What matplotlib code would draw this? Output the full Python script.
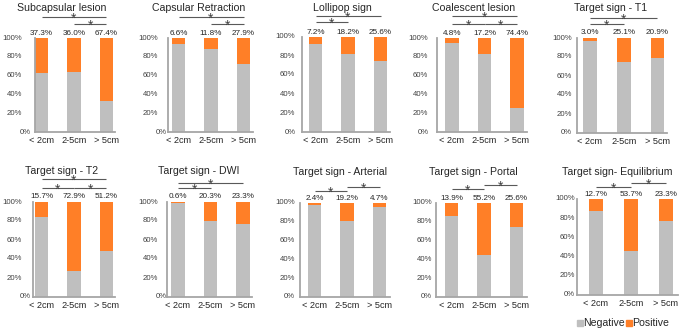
import numpy as np
import matplotlib
matplotlib.use("Agg")
import matplotlib.pyplot as plt
from matplotlib.patches import Rectangle
from matplotlib.transforms import blended_transform_factory

plt.rcParams['font.family'] = ['Liberation Sans', 'DejaVu Sans']

# ---- data ----
groups = ['< 2cm', '2-5cm', '> 5cm']
titles = ['Subcapsular lesion', 'Capsular Retraction', 'Lollipop sign',
          'Coalescent lesion', 'Target sign - T1',
          'Target sign - T2', 'Target sign - DWI', 'Target sign - Arterial',
          'Target sign - Portal', 'Target sign- Equilibrium']
positive = [
    [37.3, 36.0, 67.4],
    [6.6, 11.8, 27.9],
    [7.2, 18.2, 25.6],
    [4.8, 17.2, 74.4],
    [3.0, 25.1, 20.9],
    [15.7, 72.9, 51.2],
    [0.6, 20.3, 23.3],
    [2.4, 19.2, 4.7],
    [13.9, 55.2, 25.6],
    [12.7, 53.7, 23.3],
]
ytick_vals = [0, 20, 40, 60, 80, 100]
# significance brackets: (from group, to group, pixels above 100% line)
sig_pairs = [
    [(0, 2, 21), (1, 2, 14)],
    [(0, 2, 21), (1, 2, 14)],
    [(0, 2, 21), (0, 1, 15)],
    [(0, 2, 22), (0, 1, 14), (1, 2, 14)],
    [(0, 2, 20), (0, 1, 14)],
    [(0, 2, 23), (0, 1, 14), (1, 2, 14)],
    [(0, 2, 19), (0, 1, 14)],
    [(0, 1, 12), (1, 2, 16)],
    [(0, 1, 14), (1, 2, 18)],
    [(0, 1, 12), (1, 2, 16)],
]

# ---- layout in pixels: axis left, first bar centre, last bar centre, axis right, y100, y0 ----
layout = [
    (35, 41.5, 106.5, 115, 38, 132),
    (168, 178.5, 243.5, 253, 38, 132),
    (302, 315.5, 380.5, 390, 37, 132),
    (437, 452, 517, 527, 38, 132),
    (577, 590, 657.5, 667, 38, 133),
    (33, 41.5, 106.5, 115, 202, 297),
    (167, 178, 243, 252, 202, 297),
    (300, 314.5, 379.5, 390, 203, 297),
    (436, 451.5, 516.5, 527, 203, 297),
    (577, 596, 666, 678, 199, 295),
]
# right edge of y tick labels (others, 0%) in pixels
ylab_right = [(22, 31), (158, 167), (295, 296), (428, 429), (572, 572),
              (22, 31), (158, 167), (295, 295), (432, 432), (575, 575)]
# title centre (x, y) in pixels
title_pos = [(61.5, 8), (199, 8), (342, 8), (474, 8), (611, 8),
             (62, 171), (199, 171), (340, 172), (473, 172), (617, 172)]

W, H = 685, 332
NEG = '#BFBFBF'
POS = '#FF7F27'
SPINE = '#A6A6A6'
TXT = '#262626'

fig = plt.figure(figsize=(W / 100, H / 100), dpi=100)

for k in range(10):
    axl, c1, c3, axr, y100, y0 = layout[k]
    unit = (c3 - c1) / 2.0
    ax = fig.add_axes([axl / W, 1 - y0 / H, (axr - axl) / W, (y0 - y100) / H])
    ax.set_xlim((axl - c1) / unit, 2 + (axr - c3) / unit)
    ax.set_ylim(0, 1)
    x = np.arange(3)
    pos = np.array(positive[k]) / 100.0
    neg = 1 - pos
    bw = 13.5 / unit
    ax.bar(x, neg, width=bw, color=NEG, linewidth=0)
    ax.bar(x, pos, width=bw, bottom=neg, color=POS, linewidth=0)

    for s in ['top', 'right']:
        ax.spines[s].set_visible(False)
    for s in ['left', 'bottom']:
        ax.spines[s].set_color(SPINE)
        ax.spines[s].set_linewidth(1.3)
    ax.set_yticks([v / 100 for v in ytick_vals])
    ax.set_yticklabels([])
    ax.tick_params(axis='y', length=0)
    trans = blended_transform_factory(fig.transFigure, ax.transData)
    r_other, r_zero = ylab_right[k]
    for v in ytick_vals:
        rx = r_zero if v == 0 else r_other
        ax.text(rx / W, v / 100, f'{v}%', transform=trans, ha='right',
                va='center', fontsize=5.6, color='#404040')
    ax.set_xticks(x)
    ax.set_xticklabels(groups)
    ax.tick_params(axis='x', length=0, pad=3, labelsize=6.6, labelcolor=TXT)

    ppx = 1.0 / (y0 - y100)
    for i in range(3):
        ax.text(x[i], 1 + 1.5 * ppx, f'{positive[k][i]:.1f}%', ha='center',
                va='bottom', fontsize=5.9, color=TXT, clip_on=False)

    for (a, b, lev) in sig_pairs[k]:
        yl = 1 + lev * ppx
        ax.plot([x[a], x[b]], [yl, yl], color='#595959', lw=0.8,
                clip_on=False, solid_capstyle='butt')
        ax.text((x[a] + x[b]) / 2, yl - 6 * ppx, '*', ha='center',
                va='baseline', fontsize=10, color='#404040', clip_on=False)

    tx, ty = title_pos[k]
    fig.text(tx / W, 1 - ty / H, titles[k], ha='center', va='center',
             fontsize=7.6, color=TXT)

# legend
fig.patches.append(Rectangle((577 / W, 1 - 325.5 / H), 5.5 / W, 5.5 / H,
                             transform=fig.transFigure, color=NEG))
fig.text(583.5 / W, 1 - 322.5 / H, 'Negative', fontsize=7.6, color=TXT,
         va='center', ha='left')
fig.patches.append(Rectangle((626 / W, 1 - 325.5 / H), 5.5 / W, 5.5 / H,
                             transform=fig.transFigure, color=POS))
fig.text(632.5 / W, 1 - 322.5 / H, 'Positive', fontsize=7.6, color=TXT,
         va='center', ha='left')

fig.savefig('out.png', dpi=100)
